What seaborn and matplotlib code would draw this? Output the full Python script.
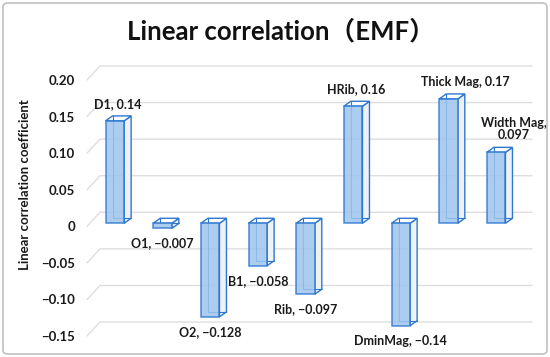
import seaborn as sns
import matplotlib.pyplot as plt
import matplotlib.transforms as mtransforms
from matplotlib.patches import Polygon, FancyBboxPatch
import numpy as np
import pandas as pd

# values
features = ["D1", "O1", "O2", "B1", "Rib", "HRib", "DminMag", "Thick Mag", "Width Mag"]
coefs = [0.14, -0.007, -0.128, -0.058, -0.097, 0.16, -0.14, 0.17, 0.097]
coef_text = ["0.14", "\u22120.007", "\u22120.128", "\u22120.058", "\u22120.097",
             "0.16", "\u22120.14", "0.17", "0.097"]
ytick_vals = [0.20, 0.15, 0.10, 0.05, 0.0, -0.05, -0.10, -0.15]
ytick_text = ["0.20", "0.15", "0.10", "0.05", "0",
              "\u22120.05", "\u22120.10", "\u22120.15"]

EDGE = "#2e77d0"
FRONT = "#9ec5ee"
GRID = "#dedede"
DX, DY = 7, 5      # depth of the fake 3d boxes, px
LIFT = 3           # bars sit a bit above the tick scale in the original

if __name__ == "__main__":
    sns.set_theme(style="white")
    plt.rcParams["font.family"] = ["Lato", "Noto Sans CJK SC", "DejaVu Sans"]

    df = pd.DataFrame({"feature": features, "coef": coefs})

    fig = plt.figure(figsize=(5.5, 3.57), dpi=100)
    W, H = 550, 357
    ax = fig.add_axes([91 / W, 1 - 336 / H, (520 - 91) / W, (336 - 80) / H])

    sns.barplot(data=df, x="feature", y="coef", color=FRONT, width=0.39,
                saturation=1, ax=ax, zorder=3)
    ax.set_ylim(-0.15, 0.20)
    ax.set_xlim(-0.5, len(features) - 0.5)

    ax.set_yticks(ytick_vals, ytick_text)
    ax.set_xticks([])
    ax.set_xlabel("")
    ax.set_ylabel("")
    ax.tick_params(axis="y", length=0, pad=11.5, labelsize=9.5, labelcolor="#1a1a1a")
    for lab in ax.get_yticklabels():
        lab.set_fontweight("bold")
    sns.despine(ax=ax, left=True, bottom=True)

    to_disp = ax.transData.transform
    to_data = ax.transData.inverted().transform

    # back wall gridlines (perspective)
    x_left_disp = to_disp((-0.5, 0))[0]
    for v in ytick_vals:
        yd = to_disp((0, v))[1]
        pts = np.array([[x_left_disp - 4, yd],
                        [x_left_disp + 9, yd + 14],
                        [532, yd + 14]])
        d = to_data(pts)
        ax.plot(d[:, 0], d[:, 1], color=GRID, lw=1, zorder=0.5, clip_on=False)

    lifted = mtransforms.offset_copy(ax.transData, fig=fig, x=0, y=LIFT, units="dots")

    for i, p in enumerate(ax.patches):
        x0, w, h = p.get_x(), p.get_width(), p.get_height()
        (xl, y1), (xr, y2) = to_disp([(x0, 0), (x0 + w, h)])
        yb, yt = min(y1, y2) + LIFT, max(y1, y2) + LIFT

        side = np.array([[xr, yb], [xr, yt], [xr + DX, yt + DY], [xr + DX, yb + DY]])
        top = np.array([[xl, yt], [xr, yt], [xr + DX, yt + DY], [xl + DX, yt + DY]])
        ax.add_patch(Polygon(to_data(side), closed=True, facecolor="#eef2f7",
                             edgecolor=EDGE, lw=1, zorder=2))
        ax.add_patch(Polygon(to_data(top), closed=True, facecolor="white",
                             edgecolor=EDGE, lw=1, zorder=2))
        back = to_data(np.array([[xl + DX, yt + DY], [xl + DX, yb + DY], [xr + DX, yb + DY]]))
        ax.plot(back[:, 0], back[:, 1], color=EDGE, lw=0.8, zorder=2.5)

        p.set_transform(lifted)
        p.set_facecolor(FRONT)
        p.set_alpha(0.85)
        p.set_edgecolor(EDGE)
        p.set_linewidth(1.1)
        p.set_zorder(3)

    # data labels
    nudge = {"Thick Mag": 14, "Width Mag": 15}
    for i, (f, v, t) in enumerate(zip(features, coefs, coef_text)):
        label = f"{f},\n{t}" if f == "Width Mag" else f"{f}, {t}"
        if v >= 0:
            off = (3 + nudge.get(f, 0), LIFT + 11)
            va = "bottom"
        else:
            off = (nudge.get(f, 0), LIFT - 9)
            va = "top"
        ax.annotate(label, xy=(i, v), xytext=(off[0] * 0.72, off[1] * 0.72),
                    textcoords="offset points", ha="center", va=va,
                    fontsize=9, fontweight="bold", color="#1a1a1a",
                    linespacing=1.05, zorder=5, annotation_clip=False)

    fig.text(281 / W, 1 - 39 / H, "Linear correlation\uff08EMF\uff09", ha="center",
             va="baseline", fontsize=18.5, fontweight="bold", color="#111111")
    fig.text(25 / W, 1 - 185 / H, "Linear correlation coefficient", rotation=90,
             ha="center", va="center", fontsize=9.5, fontweight="bold", color="#1a1a1a")

    fig.patches.append(FancyBboxPatch((3 / W, 3 / H), 1 - 6 / W, 1 - 6 / H,
                                      boxstyle="round,pad=0,rounding_size=0.01",
                                      transform=fig.transFigure, facecolor="none",
                                      edgecolor="#c0c0c0", lw=1.2))

    fig.savefig("out.png", dpi=100)
